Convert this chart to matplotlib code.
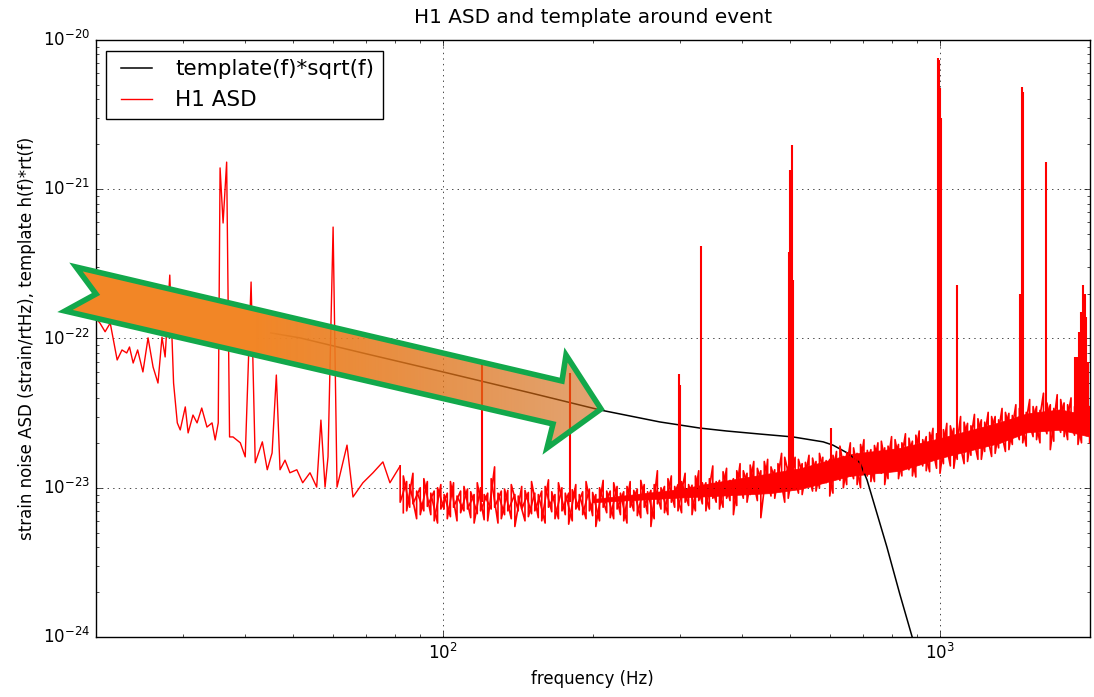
import numpy as np
import matplotlib
matplotlib.use('Agg')
from matplotlib import pyplot as plt
from matplotlib.patches import Polygon
from matplotlib.ticker import NullFormatter

plt.style.use('classic')
plt.rcParams['figure.facecolor'] = 'white'
plt.rcParams['savefig.facecolor'] = 'white'
plt.rcParams['mathtext.fontset'] = 'dejavusans'
plt.rcParams['font.family'] = ['DejaVu Sans']

# template(f)*sqrt(f)
template_f = [45, 51.5, 70, 100, 150, 207, 273, 329, 372, 434, 506, 582, 609,
              651, 690, 713, 750, 782, 830, 879, 920]
template_v = [1.09e-22, 1.01e-22, 7.9e-23, 5.97e-23, 4.32e-23, 3.32e-23, 2.76e-23,
              2.51e-23, 2.40e-23, 2.29e-23, 2.19e-23, 2.03e-23, 1.93e-23, 1.71e-23,
              1.47e-23, 1.13e-23, 6.4e-24, 4.0e-24, 1.94e-24, 1.0e-24, 5.5e-25]

# H1 ASD below ~80 Hz
asd_low_f = [20.0, 20.4, 20.9, 21.4, 22.1, 22.6, 23.1, 23.4, 23.8, 24.3,
             24.9, 25.5, 26.1, 26.7, 27.2, 27.6, 28.2, 28.7, 29.2, 29.6,
             30.3, 30.7, 31.4, 32.0, 32.7, 33.5, 34.3, 34.8, 35.3, 35.6,
             36.1, 36.7, 37.2, 37.8, 39.1, 40.0, 41.1, 41.9, 43.3, 44.3,
             45.3, 46.2, 47.0, 48.1, 49.2, 50.8, 52.2, 54.0, 55.7, 56.8,
             57.9, 58.7, 60.1, 61.2, 64.1, 65.9, 69.0, 72.3, 75.7, 78.2, 82]
asd_low_v = [1.37e-22, 1.27e-22, 1.11e-22, 1.27e-22, 7.18e-23, 8.38e-23, 8.0e-23, 8.77e-23, 6.85e-23, 8.38e-23,
             5.97e-23, 1.01e-22, 6.44e-23, 5.03e-23, 1.02e-22, 7.52e-23, 2.66e-22, 5.03e-23, 2.72e-23, 2.44e-23,
             3.48e-23, 2.33e-23, 3.07e-23, 2.72e-23, 3.42e-23, 2.55e-23, 2.72e-23, 2.09e-23, 2.72e-23, 1.39e-21,
             5.94e-22, 1.52e-21, 2.19e-23, 2.19e-23, 2.0e-23, 1.61e-23, 2.39e-22, 1.47e-23, 2.03e-23, 1.32e-23,
             1.71e-23, 5.69e-23, 1.32e-23, 1.53e-23, 1.26e-23, 1.32e-23, 1.08e-23, 1.26e-23, 1.01e-23, 2.84e-23,
             1.01e-23, 1.61e-23, 5.58e-22, 1.01e-23, 1.93e-23, 8.67e-24, 1.08e-23, 1.26e-23, 1.49e-23, 1.08e-23, 1.40e-23]

# solid core of the noise band where it is dense (units of 1e-23)
core_f = [200, 300, 349, 455, 523, 659, 831, 1000, 1320, 1496, 1743, 2000]
core_hi = [0.84, 0.98, 1.08, 1.25, 1.35, 1.68, 1.85, 2.15, 2.75, 3.15, 3.35, 3.05]
core_lo = [0.80, 0.86, 0.88, 0.92, 0.98, 1.20, 1.30, 1.58, 2.00, 2.35, 2.45, 2.20]

# noise excursions above 80 Hz: top and bottom at each frequency (units of 1e-23)
noise_f = [82, 84.5, 87, 90, 93, 96, 99, 102, 105, 108.5,
           112, 115.5, 119, 123, 127, 131, 135, 139.5, 144, 148.5,
           153, 158, 163, 168, 173.5, 179, 185, 191, 197, 203,
           210, 217, 224, 231, 238, 246, 254, 262, 270, 279,
           288, 297, 307, 317, 327, 338, 349, 360, 372, 384,
           396, 409, 422, 436, 450, 465, 480, 495, 511, 528,
           545, 563, 581, 600, 619, 639, 660, 681, 703, 726,
           750, 774, 799, 825, 852, 880, 908, 938, 968, 1000,
           1032, 1066, 1100, 1136, 1173, 1211, 1250, 1291, 1333, 1376,
           1421, 1467, 1515, 1564, 1615, 1667, 1721, 1777, 1835, 1895,
           1957, 2000]
noise_hi = [1.40, 1.10, 1.25, 1.00, 1.10, 0.95, 1.05, 0.92, 1.08, 0.95,
            0.98, 0.90, 1.00, 0.92, 1.38, 0.95, 0.96, 0.90, 1.02, 0.93,
            0.92, 0.95, 1.13, 0.90, 1.00, 0.92, 1.05, 0.94, 0.98, 0.90,
            1.12, 0.95, 1.02, 0.94, 1.10, 0.98, 1.05, 0.96, 1.30, 1.02,
            1.20, 1.05, 1.25, 1.04, 1.30, 1.08, 1.40, 1.12, 1.35, 1.15,
            1.45, 1.25, 1.50, 1.30, 1.55, 1.32, 1.70, 1.38, 1.60, 1.45,
            1.65, 1.50, 1.60, 1.55, 1.75, 1.62, 2.00, 1.70, 2.10, 1.80,
            2.00, 1.85, 2.20, 1.95, 2.30, 2.05, 2.40, 2.20, 2.50, 2.35,
            2.70, 2.50, 3.00, 2.70, 3.10, 2.85, 3.20, 3.00, 3.40, 3.15,
            3.60, 3.30, 3.90, 3.50, 4.30, 3.60, 4.20, 3.70, 4.00, 3.50,
            3.80, 3.50]
noise_lo = [0.80, 0.70, 0.78, 0.66, 0.75, 0.60, 0.72, 0.62, 0.74, 0.68,
            0.72, 0.58, 0.70, 0.60, 0.74, 0.62, 0.70, 0.55, 0.72, 0.64,
            0.70, 0.60, 0.74, 0.62, 0.70, 0.57, 0.72, 0.66, 0.70, 0.55,
            0.74, 0.63, 0.72, 0.60, 0.74, 0.65, 0.74, 0.55, 0.78, 0.68,
            0.80, 0.70, 0.80, 0.66, 0.82, 0.70, 0.85, 0.72, 0.85, 0.66,
            0.90, 0.80, 0.92, 0.63, 0.95, 0.85, 1.00, 0.85, 1.02, 0.90,
            1.05, 0.95, 1.08, 0.88, 1.15, 1.00, 1.20, 1.05, 1.25, 1.10,
            1.30, 1.05, 1.35, 1.15, 1.40, 1.20, 1.45, 1.30, 1.55, 1.25,
            1.70, 1.35, 1.80, 1.50, 1.90, 1.55, 2.00, 1.70, 2.10, 1.80,
            2.30, 2.00, 2.40, 2.10, 2.50, 1.80, 2.50, 2.20, 2.45, 1.95,
            2.30, 2.00]

# second set of noise excursions, between the frequencies above (units of 1e-23)
noise2_f = [83.2, 85.7, 88.5, 91.5, 94.5, 97.5, 100.5, 103.5, 106.7, 110.2,
            113.7, 117.2, 121, 125, 129, 133, 137.2, 141.7, 146.2, 150.7,
            155.5, 160.5, 165.5, 170.7, 176.2, 182, 188, 194, 200, 206.5,
            213.5, 220.5, 227.5, 234.5, 242, 250, 258, 266, 274.5, 283.5,
            292.5, 302, 312, 322, 332.5, 343.5, 354.5, 366, 378, 390,
            402, 415, 429, 443, 457, 472, 487, 503, 519, 536,
            554, 572, 590, 609, 629, 649, 670, 692, 714, 738,
            762, 786, 812, 838, 866, 894, 923, 953, 984, 1016,
            1049, 1083, 1118, 1154, 1192, 1230, 1270, 1312, 1354, 1398,
            1444, 1491, 1539, 1589, 1641, 1694, 1749, 1806, 1865, 1926]
noise2_hi = [1.20, 1.05, 0.95, 1.15, 0.92, 1.00, 0.90, 1.10, 0.88, 1.02,
             0.94, 1.08, 0.90, 1.15, 0.92, 0.98, 1.05, 0.88, 0.96, 1.10,
             0.90, 1.02, 0.94, 1.08, 0.92, 0.97, 0.90, 1.10, 0.93, 1.00,
             0.95, 1.08, 0.92, 1.02, 0.96, 1.12, 0.94, 1.05, 1.00, 1.15,
             1.02, 1.10, 1.05, 1.20, 1.08, 1.15, 1.10, 1.28, 1.12, 1.30,
             1.30, 1.42, 1.35, 1.50, 1.38, 1.45, 1.60, 1.42, 1.55, 1.48,
             1.58, 1.70, 1.52, 1.65, 1.90, 1.72, 1.85, 1.95, 1.78, 1.92,
             2.05, 1.90, 2.10, 2.00, 2.15, 2.25, 2.10, 2.35, 2.30, 2.45,
             2.60, 2.40, 2.75, 2.60, 2.90, 2.75, 3.00, 2.85, 3.20, 3.05,
             3.40, 3.20, 3.50, 3.30, 3.70, 3.40, 3.90, 3.60, 3.50, 3.30]
noise2_lo = [0.68, 0.74, 0.62, 0.70, 0.66, 0.58, 0.72, 0.64, 0.60, 0.70,
             0.63, 0.67, 0.61, 0.72, 0.58, 0.66, 0.62, 0.70, 0.60, 0.67,
             0.63, 0.58, 0.69, 0.62, 0.66, 0.60, 0.71, 0.62, 0.65, 0.60,
             0.68, 0.62, 0.66, 0.58, 0.70, 0.63, 0.67, 0.62, 0.72, 0.66,
             0.74, 0.68, 0.76, 0.70, 0.78, 0.72, 0.80, 0.74, 0.82, 0.76,
             0.85, 0.90, 0.82, 0.95, 0.88, 0.98, 0.80, 1.00, 0.92, 1.05,
             0.95, 1.00, 1.08, 0.92, 1.12, 1.05, 1.15, 1.00, 1.20, 1.10,
             1.25, 1.15, 1.30, 1.20, 1.32, 1.18, 1.40, 1.28, 1.35, 1.45,
             1.40, 1.55, 1.45, 1.65, 1.55, 1.75, 1.62, 1.85, 1.75, 1.95,
             2.10, 1.90, 2.20, 2.00, 2.30, 2.05, 2.35, 2.10, 2.25, 2.00]

# spectral lines: frequency, top, base (base in units of 1e-23)
line_f = [120, 180, 298, 300, 331, 497, 500, 503, 507, 604, 990, 995, 1000, 1006,
          1080, 1450, 1462, 1470, 1636, 1870, 1890, 1905, 1925, 1942, 1955, 1970, 1985]
line_v = [6.85e-23, 5.87e-23, 5.8e-23, 4.9e-23, 4.17e-22, 3.8e-22, 1.35e-21, 1.98e-21,
          2.45e-22, 2.51e-23, 7.6e-21, 7.3e-21, 4.8e-21, 3.0e-21, 2.29e-22, 2.0e-22,
          4.84e-21, 4.5e-21, 1.52e-21, 7.5e-23, 7.5e-23, 1.1e-22, 1.5e-22, 2.28e-22,
          2.0e-22, 1.4e-22, 7e-23]
line_base = [0.8, 0.8, 0.9, 0.9, 0.95, 1.1, 1.1, 1.1, 1.1, 1.4, 1.8, 1.8, 1.8, 1.8,
             2.0, 2.6, 2.6, 2.6, 2.8, 2.7, 2.7, 2.7, 2.7, 2.7, 2.7, 2.7, 2.7]

unit = 1e-23
W_PX, H_PX = 1094, 697

fig = plt.figure(figsize=(W_PX / 100, H_PX / 100), dpi=100)
ax = fig.add_axes([0.0874, 0.0861, 0.9086, 0.8565])

ax.fill_between(core_f, np.array(core_lo) * unit, np.array(core_hi) * unit,
                color='r', lw=0.5, zorder=1)
tl, = ax.loglog(template_f, template_v, 'k', lw=1.1, zorder=2, label='template(f)*sqrt(f)')
# noise traces: at each frequency the trace swings between top and bottom
zig_f = np.repeat(noise_f, 2)
zig_v = np.column_stack([noise_hi, noise_lo]).ravel() * unit
ax.loglog(zig_f, zig_v, 'r', lw=1.2, zorder=3)
zig2_f = np.repeat(noise2_f, 2)
zig2_v = np.column_stack([noise2_lo, noise2_hi]).ravel() * unit
ax.loglog(zig2_f, zig2_v, 'r', lw=1.2, zorder=3)
rl, = ax.loglog(asd_low_f, asd_low_v, 'r', lw=1.0, zorder=3, label='H1 ASD')
ax.vlines(line_f, np.array(line_base) * unit, line_v, color='r', lw=1.5, zorder=3)

ax.set_xlim(20, 2000)
ax.set_ylim(1e-24, 1e-20)
ax.grid(True, which='major')
ax.xaxis.set_minor_formatter(NullFormatter())
ax.yaxis.set_minor_formatter(NullFormatter())
ax.set_title('H1 ASD and template around event', pad=12)
ax.set_xlabel('frequency (Hz)')
ax.set_ylabel('strain noise ASD (strain/rtHz), template h(f)*rt(f)')
ax.legend(handles=[tl, rl], loc='upper left', fontsize=15.5)

# highlight arrow drawn on the figure (pixel positions from top-left)
arrow_px = [(76, 267), (562, 381), (566, 355), (601, 409), (547, 448),
            (553, 424), (65, 311), (96, 294)]
arrow = Polygon([(x / W_PX, 1 - y / H_PX) for x, y in arrow_px], closed=True,
                transform=fig.transFigure, fc='none', ec='#12a84b', lw=4,
                joinstyle='miter', zorder=3)
fig.add_artist(arrow)

x0, x1, ytop, ybot = 55, 615, 255, 460
xs = np.arange(x0, x1)
t = np.clip((xs - 255) / (603 - 255), 0, 1)
c0 = np.array([242, 134, 38]) / 255.0
c1 = np.array([207, 100, 15]) / 255.0
img = np.zeros((ybot - ytop, x1 - x0, 4))
img[:, :, :3] = c0 + t[:, None] * (c1 - c0)
img[:, :, 3] = 1 - 0.42 * t
im = fig.figimage(img, xo=x0, yo=H_PX - ybot, origin='upper', zorder=2)
im.set_clip_path(arrow)

fig.savefig('out.png', dpi=100)
